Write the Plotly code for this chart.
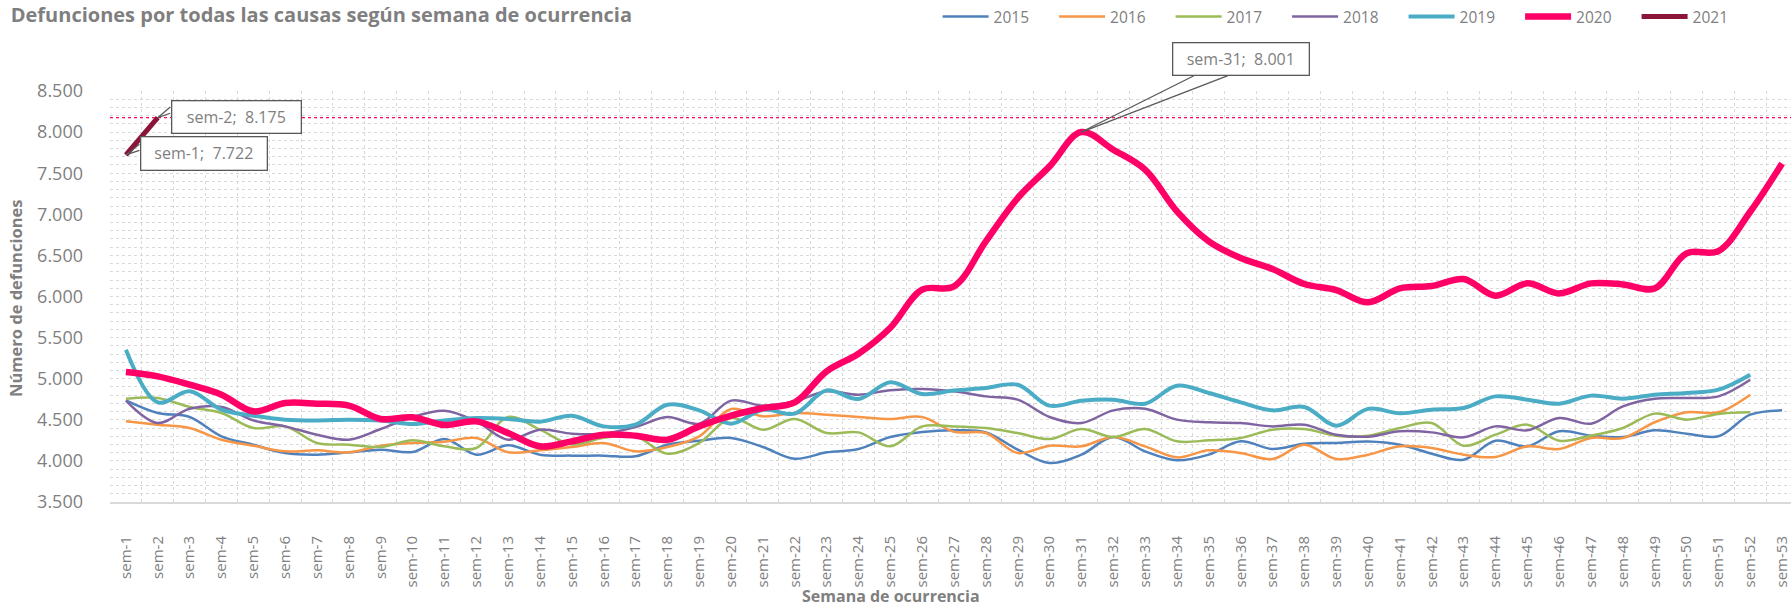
import plotly.graph_objects as go

weeks = [f"sem-{i}" for i in range(1, 54)]

v2015 = [4737, 4583, 4534, 4299, 4197, 4096, 4076, 4104, 4137, 4108, 4266, 4076, 4189, 4076, 4064, 4064, 4056,
         4197, 4246, 4279, 4169, 4027, 4104, 4145, 4291, 4352, 4372, 4347, 4137, 3974, 4076, 4291, 4116, 4007,
         4076, 4238, 4145, 4210, 4218, 4235, 4197, 4088, 4015, 4246, 4177, 4360, 4307, 4291, 4372, 4331, 4299,
         4562, 4615]
v2016 = [4481, 4441, 4400, 4258, 4185, 4116, 4129, 4104, 4185, 4218, 4234, 4279, 4104, 4129, 4169, 4218, 4116,
         4169, 4299, 4631, 4542, 4583, 4562, 4534, 4510, 4534, 4355, 4339, 4096, 4185, 4177, 4291, 4177, 4043,
         4129, 4096, 4023, 4197, 4023, 4076, 4177, 4157, 4076, 4047, 4177, 4145, 4279, 4279, 4470, 4591, 4591,
         4806]
v2017 = [4757, 4765, 4656, 4583, 4400, 4420, 4218, 4197, 4169, 4250, 4177, 4157, 4534, 4380, 4200, 4280, 4300,
         4088, 4218, 4522, 4380, 4510, 4339, 4347, 4177, 4420, 4420, 4400, 4339, 4266, 4388, 4291, 4388, 4238,
         4250, 4279, 4380, 4388, 4307, 4307, 4400, 4461, 4185, 4319, 4441, 4246, 4307, 4400, 4575, 4502, 4571,
         4591]
v2018 = [4733, 4461, 4635, 4656, 4493, 4420, 4319, 4258, 4388, 4534, 4611, 4481, 4258, 4380, 4331, 4331, 4412,
         4534, 4453, 4733, 4672, 4725, 4846, 4806, 4858, 4875, 4846, 4785, 4745, 4534, 4461, 4615, 4635, 4502,
         4469, 4461, 4420, 4441, 4319, 4295, 4360, 4347, 4287, 4420, 4372, 4522, 4453, 4664, 4757, 4765, 4785,
         4988]
v2019 = [5353, 4712, 4846, 4623, 4550, 4502, 4493, 4502, 4490, 4449, 4493, 4522, 4510, 4477, 4550, 4420, 4441,
         4684, 4615, 4453, 4623, 4575, 4858, 4753, 4956, 4814, 4856, 4887, 4927, 4672, 4733, 4745, 4696, 4915,
         4826, 4712, 4615, 4656, 4429, 4633, 4579, 4623, 4643, 4785, 4745, 4696, 4794, 4757, 4806, 4826, 4867,
         5049]
v2020 = [5081, 5029, 4927, 4806, 4603, 4704, 4696, 4672, 4510, 4530, 4437, 4481, 4339, 4177, 4238, 4319, 4307,
         4258, 4420, 4550, 4643, 4712, 5090, 5304, 5620, 6083, 6123, 6671, 7198, 7583, 8001, 7786, 7543, 7036,
         6671, 6468, 6334, 6152, 6079, 5929, 6099, 6127, 6212, 6010, 6160, 6038, 6160, 6147, 6099, 6525, 6553,
         7031, 7619]
v2021 = [7722, 8175]

series = [
    ("2015", v2015, "#4F81BD", 2.5),
    ("2016", v2016, "#F79646", 2.5),
    ("2017", v2017, "#9BBB59", 2.5),
    ("2018", v2018, "#8064A2", 2.5),
    ("2019", v2019, "#4BACC6", 4),
    ("2020", v2020, "#FF0066", 6.5),
    ("2021", v2021, "#8B1538", 5),
]

FONT = "Open Sans"
GREY = "#7F7F7F"
GRID = "#D9D9D9"
BORDER = "#595959"

fig = go.Figure()
for name, vals, color, w in series:
    fig.add_trace(go.Scatter(
        x=weeks[:len(vals)], y=vals, name=name, mode="lines",
        line=dict(color=color, width=w, shape="spline", smoothing=1.0),
    ))

def fmt(v):
    return f"{v:,}".replace(",", ".")

def callout(idx, vals, ax, ay, w, h, wedge):
    x = weeks[idx]
    y = vals[idx]
    # wedge edges of the callout, drawn as plain arrows from the data point
    for (wx, wy) in wedge:
        fig.add_annotation(x=x, y=y, xref="x", yref="y", text="", showarrow=True,
                           ax=wx, ay=wy, arrowhead=0, arrowwidth=1.3, arrowcolor=BORDER,
                           standoff=0, startstandoff=0)
    fig.add_annotation(x=x, y=y, xref="x", yref="y", text=f"{x};&nbsp; {fmt(y)}",
                       showarrow=True, arrowcolor="rgba(0,0,0,0)", ax=ax, ay=ay,
                       width=w, height=h, bgcolor="white", bordercolor=BORDER,
                       borderwidth=1.3, borderpad=0,
                       font=dict(family=FONT, size=16, color=GREY))

# reference line at the 2021 maximum
fig.add_shape(type="line", xref="paper", yref="y", x0=0, x1=1, y0=max(v2021), y1=max(v2021),
              line=dict(color="#FF0066", width=1.2, dash="dot"), layer="above")

callout(30, v2020, 160, -73, 135, 31, [(114, -57), (148, -57)])
callout(1, v2021, 79, -1, 128, 31, [(14, -12), (14, -5)])
callout(0, v2021, 78, -1, 125, 32, [(15, -12), (15, -5)])

# axis titles
fig.add_annotation(text="<b>Número de defunciones</b>", xref="paper", yref="paper",
                   x=-0.0559, y=0.494, xanchor="center", yanchor="middle", textangle=-90,
                   showarrow=False, font=dict(family=FONT, size=16.5, color=GREY))
fig.add_annotation(text="<b>Semana de ocurrencia</b>", xref="paper", yref="paper",
                   x=0.4646, y=-0.229, xanchor="center", yanchor="middle", showarrow=False,
                   font=dict(family=FONT, size=16, color=GREY))

fig.update_layout(
    width=1791, height=607,
    margin=dict(l=110, r=0, t=91, b=105),
    paper_bgcolor="white", plot_bgcolor="white",
    separators=",.",
    font=dict(family=FONT, color=GREY),
    title=dict(text="<b>Defunciones por todas las causas según semana de ocurrencia</b>",
               x=0.006, xref="container", xanchor="left", y=0.976, yref="container", yanchor="middle",
               font=dict(family=FONT, size=20, color=GREY)),
    showlegend=True,
    legend=dict(orientation="h", xref="container", yref="container", x=0.5235, xanchor="left",
                y=0.972, yanchor="middle", font=dict(family=FONT, size=15.5, color=GREY),
                entrywidth=55.5, entrywidthmode="pixels", itemwidth=46, traceorder="normal"),
    xaxis=dict(
        type="category", range=[-0.5, 52.28], tickson="boundaries", automargin=False,
        showgrid=True, gridcolor=GRID, griddash="dot", gridwidth=1,
        showline=True, linecolor=GRID, linewidth=2,
        tickangle=-90, tickfont=dict(family=FONT, size=15, color=GREY), ticks="",
        ticklabelstandoff=26,
        zeroline=False,
    ),
    yaxis=dict(
        range=[3500, 8500], dtick=500, tickformat=",d", automargin=False,
        showgrid=True, gridcolor=GRID, griddash="dot", gridwidth=1,
        minor=dict(dtick=100, showgrid=True, gridcolor=GRID, griddash="dot", gridwidth=1),
        tickfont=dict(family=FONT, size=18, color=GREY), ticks="",
        ticklabelstandoff=26,
        zeroline=False, showline=False,
    ),
)

fig.write_html("out.html", config={"displayModeBar": False},
               post_script="document.body.style.margin='0px';document.body.style.padding='0px';"
                           "document.body.style.overflow='hidden';")
